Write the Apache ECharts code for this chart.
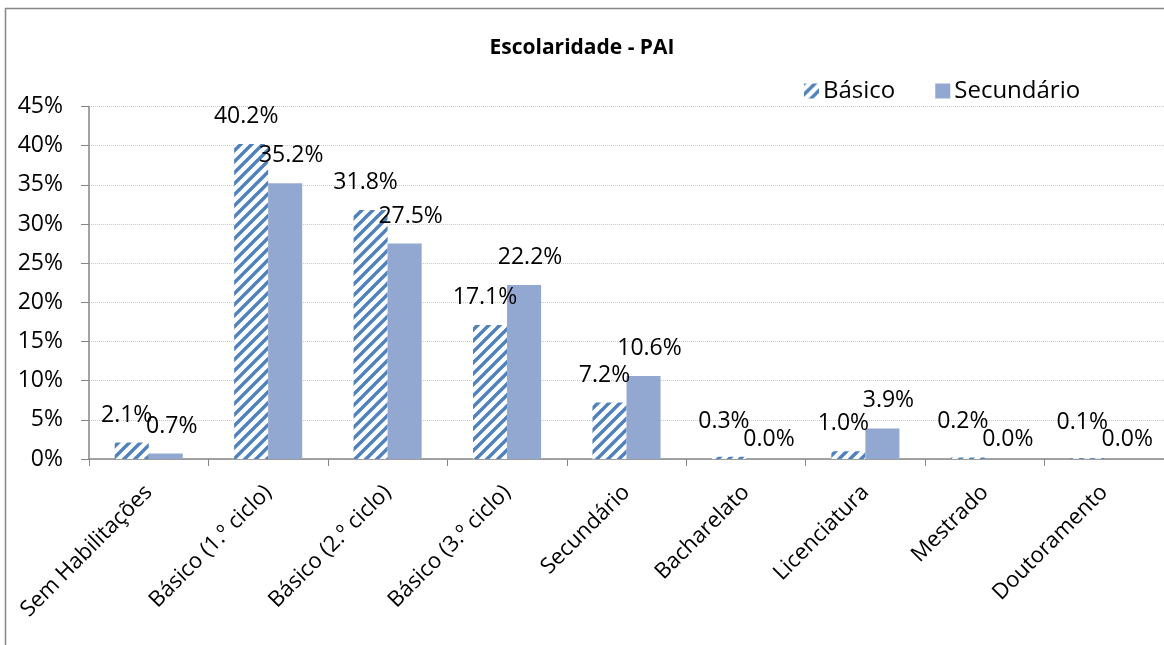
<!DOCTYPE html>
<html>
<head>
<meta charset="utf-8">
<script src="https://cdn.jsdelivr.net/npm/echarts@6/dist/echarts.min.js"></script>
<style>
  html, body { margin: 0; padding: 0; background: #fff; }
  #chart { width: 1164px; height: 645px; }
</style>
</head>
<body>
<div id="chart"></div>
<script>
'use strict';

// data
const arrCategories = ['Sem Habilitações', 'Básico (1.º ciclo)', 'Básico (2.º ciclo)', 'Básico (3.º ciclo)',
    'Secundário', 'Bacharelato', 'Licenciatura', 'Mestrado', 'Doutoramento'];
const arrBasico = [2.1, 40.2, 31.8, 17.1, 7.2, 0.3, 1.0, 0.2, 0.1];
const arrSecundario = [0.7, 35.2, 27.5, 22.2, 10.6, 0.0, 3.9, 0.0, 0.0];
const arrLegend = ['Básico', 'Secundário'];

const chart = echarts.init(document.getElementById('chart'));
const FONT = '"Open Sans", "DejaVu Sans", sans-serif';

// striped fill for the first series
const makeStripes = () => {
    const s = 11;
    const cv = document.createElement('canvas');
    cv.width = s;
    cv.height = s;
    const ctx = cv.getContext('2d');
    ctx.fillStyle = '#ffffff';
    ctx.fillRect(0, 0, s, s);
    ctx.strokeStyle = '#4f81bd';
    ctx.lineWidth = 3.4;
    [0, s, 2 * s].forEach((c) => {
        ctx.beginPath();
        ctx.moveTo(c + 1, -1);
        ctx.lineTo(-1, c + 1);
        ctx.stroke();
    });
    return cv;
};

// excel pushes colliding labels apart: left bars a bit left, right bars a bit right,
// zero values sit lower, near-zero values sit higher
const makeLabel = (dx, v) => ({
    show: true,
    position: 'top',
    distance: v === 0 ? 8 : (v < 0.5 ? 24 : 16),
    offset: [dx, 0],
    color: '#000',
    fontFamily: FONT,
    fontSize: 23,
    formatter: (p) => p.value.toFixed(1) + '%'
});

const toItems = (arr, dx) => arr.map(v => ({ value: v, label: makeLabel(dx, v) }));

const option = {
    animation: false,
    title: {
        text: 'Escolaridade - PAI',
        left: 'center',
        top: 33,
        textStyle: { fontFamily: FONT, fontWeight: 'bold', fontSize: 21, color: '#000' }
    },
    legend: {
        data: arrLegend,
        left: 799,
        top: 74,
        icon: 'rect',
        itemWidth: 15,
        itemHeight: 15,
        itemGap: 40,
        textStyle: { fontFamily: FONT, fontSize: 24, color: '#000', padding: [0, 0, 0, -1] }
    },
    graphic: [{
        type: 'rect',
        silent: true,
        shape: { x: 5.5, y: 8.5, width: 1180, height: 700 },
        style: { fill: 'none', stroke: '#868686', lineWidth: 1.5 }
    }],
    grid: {
        left: 89,
        top: 106.5,
        width: 1080,
        height: 352.5
    },
    xAxis: {
        type: 'category',
        data: arrCategories,
        axisLine: { lineStyle: { color: '#868686', width: 1.5 } },
        axisTick: { show: true, length: 7, lineStyle: { color: '#868686' } },
        axisLabel: {
            rotate: 45,
            interval: 0,
            margin: 30,
            color: '#000',
            fontFamily: FONT,
            fontSize: 22
        }
    },
    yAxis: {
        type: 'value',
        min: 0,
        max: 45,
        interval: 5,
        axisLine: { show: true, lineStyle: { color: '#868686', width: 1.5 } },
        axisTick: { show: true, length: 8, lineStyle: { color: '#868686' } },
        splitLine: { lineStyle: { color: '#c8c8c8', type: 'dotted' } },
        axisLabel: {
            margin: 26,
            color: '#000',
            fontFamily: FONT,
            fontSize: 23,
            formatter: '{value}%'
        }
    },
    series: [{
        name: arrLegend[0],
        type: 'bar',
        barGap: 0,
        barCategoryGap: '43%',
        itemStyle: { color: { image: makeStripes(), repeat: 'repeat' } },
        data: toItems(arrBasico, -5)
    }, {
        name: arrLegend[1],
        type: 'bar',
        itemStyle: { color: '#93a8d1' },
        data: toItems(arrSecundario, 6)
    }]
};

chart.setOption(option);
</script>
</body>
</html>
